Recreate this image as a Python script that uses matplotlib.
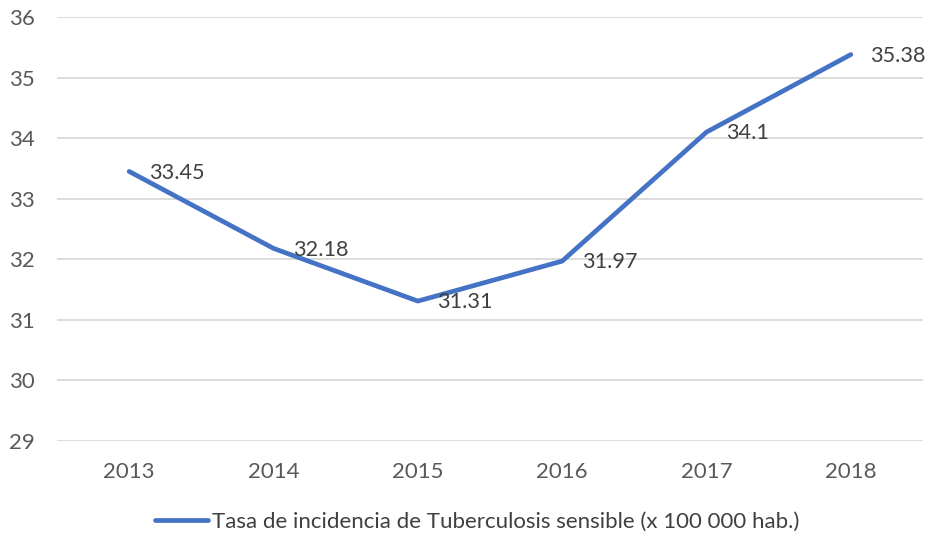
import matplotlib
matplotlib.use("Agg")
import matplotlib.pyplot as plt

years = ["2013", "2014", "2015", "2016", "2017", "2018"]
values = [33.45, 32.18, 31.31, 31.97, 34.1, 35.38]
value_labels = ["33.45", "32.18", "31.31", "31.97", "34.1", "35.38"]
yticks = [29, 30, 31, 32, 33, 34, 35, 36]
series_name = "Tasa de incidencia de Tuberculosis sensible (x 100 000 hab.)"

plt.rcParams['font.family'] = ['Lato', 'DejaVu Sans']
W, H = 930, 539
fig = plt.figure(figsize=(W / 100, H / 100), dpi=100)
ax = fig.add_axes([57 / W, 1 - 441 / H, (923 - 57) / W, (441 - 17) / H])

x = list(range(len(years)))
line, = ax.plot(x, values, color="#4472C4", lw=3.4, solid_capstyle="round",
                solid_joinstyle="round", label=series_name, zorder=3)
for xi, v, lab in zip(x, values, value_labels):
    ax.annotate(lab, (xi, v), xytext=(14, -1), textcoords="offset points",
                ha="left", va="center", fontsize=15.6, color="#404040", zorder=4)

ax.set_xlim(-0.5, len(years) - 0.5)
ax.set_ylim(29, 36)
ax.set_yticks(yticks)
ax.set_xticks(x)
ax.set_xticklabels(years)
ax.grid(axis="y", color="#D9D9D9", lw=1.3)
ax.set_axisbelow(True)
for s in ax.spines.values():
    s.set_visible(False)
ax.tick_params(axis="both", length=0, labelsize=16, colors="#595959")
ax.tick_params(axis="y", pad=16)
ax.tick_params(axis="x", pad=15)

fig.legend(handles=[line], loc="center", bbox_to_anchor=(477 / W, 1 - 522 / H),
           frameon=False, fontsize=16, handlelength=2.4, handletextpad=0.15,
           labelcolor="#404040")

fig.savefig("out.png", dpi=100, facecolor="white")
